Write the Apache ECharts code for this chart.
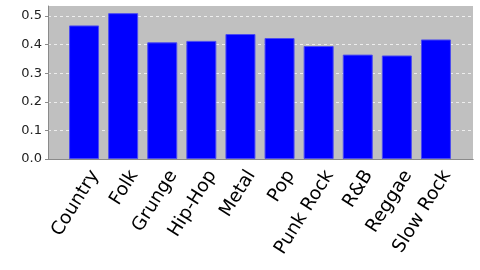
<!DOCTYPE html>
<html><head><meta charset="utf-8">
<script src="https://cdn.jsdelivr.net/npm/echarts@6/dist/echarts.min.js"></script>
<style>html,body{margin:0;padding:0;background:#fff}#c{width:480px;height:270px}</style>
</head><body><div id="c"></div>
<script>
var categories = ['Country','Folk','Grunge','Hip-Hop','Metal','Pop','Punk Rock','R&B','Reggae','Slow Rock'];
var values = [0.467, 0.510, 0.408, 0.413, 0.437, 0.423, 0.395, 0.365, 0.362, 0.418];
var yTicks = [0, 0.1, 0.2, 0.3, 0.4, 0.5];

var chart = echarts.init(document.getElementById('c'), null, {renderer:'canvas'});
var yMax = 0.535;
var font = 'DejaVu Sans';
var edge = {show:true, lineStyle:{color:'#8a8a8a', width:1}};
chart.setOption({
  animation:false,
  backgroundColor:'#ffffff',
  grid:[
    {left:48, right:7, top:6, bottom:111, show:true, backgroundColor:'#c0c0c0', borderWidth:0},
    {left:64.5, right:24.5, top:6, bottom:111},
    {left:75.5, right:13.5, top:6, bottom:111},
    {left:48, right:7, top:16, bottom:111}
  ],
  xAxis:[
    {gridIndex:0, type:'value', position:'top', min:0, max:1, axisLine:edge, axisTick:{show:false}, axisLabel:{show:false}, splitLine:{show:false}},
    {gridIndex:0, type:'value', position:'bottom', min:0, max:1, axisLine:edge, axisTick:{show:false}, axisLabel:{show:false}, splitLine:{show:false}},
    {gridIndex:1, type:'category', data:categories,
     axisLine:{show:false}, axisTick:{show:false}, axisLabel:{show:false}},
    {gridIndex:2, type:'category', data:categories,
     axisLine:{show:false}, axisTick:{show:false},
     axisLabel:{rotate:58, fontFamily:font, fontSize:18.5, color:'#000', margin:13, interval:0}},
    {gridIndex:3, type:'value', min:0, max:1, show:false}
  ],
  yAxis:[
    {gridIndex:0, type:'value', min:0, max:1, axisLine:edge, axisTick:{show:false}, axisLabel:{show:false}, splitLine:{show:false}},
    {gridIndex:1, type:'value', min:0, max:yMax, show:false, splitLine:{show:false}},
    {gridIndex:2, type:'value', min:0, max:yMax, show:false, splitLine:{show:false}},
    {gridIndex:3, type:'value', min:0, max:0.5, interval:0.1,
     axisLine:{show:false},
     axisTick:{show:true, length:3, lineStyle:{color:'#8a8a8a'}},
     axisLabel:{fontFamily:font, fontSize:13, color:'#222', margin:6,
       formatter:function(v){ return v.toFixed(1); }},
     splitLine:{show:true, lineStyle:{color:'#eeeeee', type:[3,3], width:1}}}
  ],
  series:[{
    type:'bar', xAxisIndex:2, yAxisIndex:1, data:values, barWidth:30, z:3,
    itemStyle:{color:'#0000ff', borderColor:'#4c4cf0', borderWidth:1}
  }]
});
</script></body></html>
